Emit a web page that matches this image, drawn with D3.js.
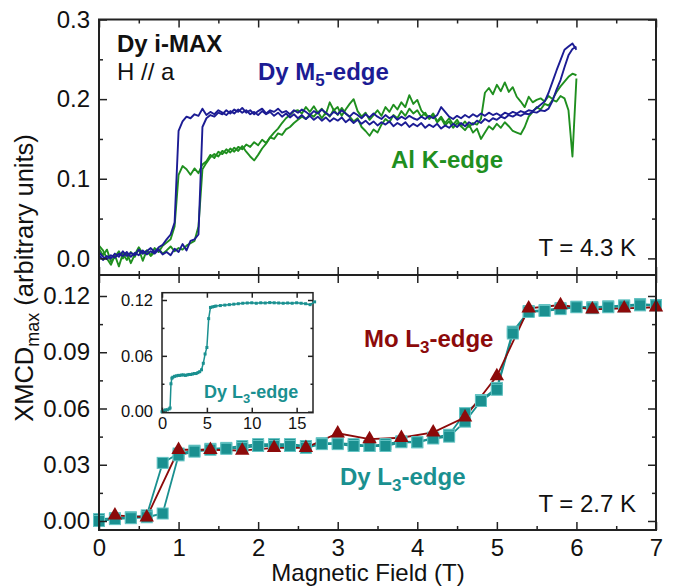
<!DOCTYPE html>
<html>
<head>
<meta charset="utf-8">
<script src="https://cdn.jsdelivr.net/npm/d3@7/dist/d3.min.js"></script>
<style>
  body { margin: 0; background: #fff; }
  svg { display: block; font-family: "Liberation Sans", Arial, sans-serif; }
</style>
</head>
<body>
<svg id="chart" width="679" height="587"></svg>
<script>
// ---- data ----
// top panel: field sweep 0..6 T on a 0.05 T grid
var sweepStep = 0.05;
var sweepField = d3.range(0, 6 + 1e-6, sweepStep);

var dyM5Early = [
  0.004,-0.002,0.003,0.000,0.006,0.002,0.009,0.003,0.007,0.004,0.011,0.006,0.009,0.013,0.008,0.014,0.017,0.024,0.030,0.045,
  0.160,0.172,0.178,0.176,0.181,0.179,0.188,0.180,0.184,0.181,0.186,0.183,0.180,0.185,0.182,0.187,0.183,0.186,0.181,0.184,
  0.180,0.185,0.181,0.184,0.179,0.183,0.178,0.182,0.177,0.181,0.176,0.180,0.175,0.179,0.174,0.178,0.173,0.177,0.172,0.176,
  0.173,0.177,0.171,0.175,0.170,0.174,0.169,0.173,0.168,0.172,0.167,0.171,0.168,0.172,0.166,0.170,0.167,0.171,0.165,0.169,
  0.166,0.170,0.164,0.168,0.165,0.169,0.163,0.167,0.164,0.169,0.165,0.170,0.166,0.171,0.168,0.173,0.170,0.175,0.172,0.176,
  0.174,0.178,0.176,0.180,0.178,0.181,0.179,0.182,0.181,0.184,0.183,0.186,0.185,0.188,0.198,0.212,0.224,0.240,0.255,0.263,
  0.266];
var dyM5Late = [
  0.008,0.002,-0.001,0.004,0.001,0.006,0.003,0.008,0.002,0.007,0.004,0.010,0.005,0.009,0.006,0.011,0.005,0.008,0.004,0.012,
  0.008,0.018,0.010,0.022,0.024,0.030,0.165,0.176,0.180,0.178,0.183,0.181,0.186,0.182,0.187,0.184,0.189,0.183,0.186,0.181,
  0.185,0.188,0.182,0.186,0.184,0.188,0.183,0.185,0.181,0.186,0.183,0.187,0.184,0.180,0.185,0.182,0.187,0.183,0.179,0.184,
  0.181,0.186,0.182,0.178,0.183,0.180,0.176,0.181,0.177,0.182,0.178,0.175,0.180,0.176,0.179,0.174,0.178,0.175,0.179,0.176,
  0.174,0.178,0.175,0.179,0.176,0.180,0.190,0.184,0.178,0.175,0.179,0.176,0.180,0.177,0.181,0.178,0.182,0.179,0.183,0.180,
  0.182,0.179,0.183,0.181,0.184,0.182,0.185,0.183,0.186,0.185,0.189,0.193,0.197,0.208,0.222,0.236,0.249,0.262,0.266,0.270,
  0.262];
var alKEarly = [
  0.016,0.010,0.000,-0.008,0.004,-0.010,0.006,-0.002,0.008,0.002,0.012,-0.003,0.010,0.004,0.013,0.008,0.016,0.020,0.024,0.040,
  0.105,0.116,0.112,0.105,0.113,0.107,0.118,0.122,0.130,0.126,0.134,0.131,0.137,0.133,0.139,0.135,0.141,0.134,0.128,0.123,
  0.130,0.138,0.144,0.152,0.158,0.163,0.170,0.176,0.180,0.185,0.186,0.182,0.190,0.184,0.191,0.183,0.188,0.181,0.196,0.186,
  0.190,0.179,0.187,0.194,0.200,0.185,0.178,0.183,0.174,0.180,0.186,0.179,0.190,0.184,0.193,0.187,0.196,0.190,0.205,0.194,
  0.199,0.186,0.180,0.176,0.182,0.172,0.178,0.170,0.176,0.168,0.174,0.166,0.172,0.165,0.170,0.168,0.175,0.208,0.214,0.206,
  0.218,0.210,0.221,0.209,0.215,0.203,0.197,0.190,0.203,0.196,0.199,0.201,0.197,0.204,0.200,0.209,0.216,0.222,0.228,0.232,
  0.230];
var alKLate = [
  0.012,0.004,0.011,-0.004,0.002,0.009,0.000,0.007,-0.006,0.005,0.014,0.006,0.010,0.003,0.008,0.012,0.006,0.010,0.015,0.009,
  0.013,0.011,0.016,0.019,0.022,0.040,0.112,0.120,0.127,0.131,0.128,0.135,0.132,0.138,0.134,0.140,0.137,0.143,0.140,0.146,
  0.142,0.149,0.145,0.152,0.150,0.157,0.155,0.162,0.165,0.170,0.174,0.178,0.175,0.181,0.178,0.184,0.176,0.183,0.178,0.187,
  0.180,0.189,0.182,0.178,0.172,0.176,0.165,0.160,0.154,0.162,0.158,0.168,0.175,0.171,0.180,0.176,0.185,0.179,0.188,0.182,
  0.186,0.178,0.183,0.175,0.180,0.171,0.176,0.167,0.172,0.164,0.170,0.166,0.161,0.168,0.158,0.163,0.150,0.158,0.166,0.162,
  0.169,0.164,0.171,0.166,0.160,0.158,0.156,0.165,0.178,0.184,0.190,0.187,0.194,0.192,0.199,0.197,0.204,0.201,0.186,0.128,
  0.226];

// bottom panel
var moField = [0.2, 0.6, 1.0, 1.4, 1.8, 2.2, 2.6, 3.0, 3.4, 3.8, 4.2, 4.6, 5.0, 5.4, 5.8, 6.2, 6.6, 7.0];
var moL3 = [0.003, 0.002, 0.038, 0.038, 0.0375, 0.039, 0.039, 0.0468, 0.0437, 0.0444, 0.0473, 0.0553, 0.0773, 0.1134, 0.1152, 0.1129, 0.1134, 0.114];

var dyField = [0, 0.2, 0.4, 0.6, 0.8, 1.0, 1.2, 1.4, 1.6, 1.8, 2.0, 2.2, 2.4, 2.6, 2.8, 3.0, 3.2, 3.4,
               3.6, 3.8, 4.0, 4.2, 4.4, 4.6, 4.8, 5.0, 5.2, 5.4, 5.6, 5.8, 6.0, 6.2, 6.4, 6.6, 6.8, 7.0];
var dyL3Up = [0.000, 0.001, 0.0015, 0.002, 0.004, 0.035, 0.037, 0.038, 0.0385, 0.039, 0.040, 0.040, 0.040, 0.039, 0.041, 0.041, 0.040, 0.040,
              0.040, 0.042, 0.042, 0.044, 0.045, 0.053, 0.064, 0.070, 0.100, 0.1115, 0.112, 0.113, 0.114, 0.1135, 0.114, 0.1145, 0.115, 0.115];
var dyL3Down = [0.001, 0.0015, 0.002, 0.003, 0.031, 0.036, 0.0375, 0.0385, 0.039, 0.040, 0.041, 0.041, 0.041, 0.040, 0.0415, 0.0415, 0.041, 0.040,
                0.041, 0.0425, 0.042, 0.0445, 0.046, 0.0575, 0.0645, 0.071, 0.101, 0.112, 0.1125, 0.1135, 0.1143, 0.114, 0.1145, 0.115, 0.1157, 0.1152];

// inset: Dy L3 up to 17 T
var insetField = [0, 0.2, 0.4, 0.6, 0.8, 0.9, 1.0, 1.1, 1.2, 1.4, 1.6, 1.8, 2.0, 2.2, 2.4, 2.6, 2.8, 3.0, 3.2, 3.4, 3.6, 3.8,
                  4.0, 4.2, 4.4, 4.6, 4.8, 5.0, 5.2, 5.4, 5.6, 5.8, 6.0, 6.5, 7.0, 7.5, 8.0, 8.5, 9.0, 9.5, 10.0, 10.5,
                  11.0, 11.5, 12.0, 12.5, 13.0, 13.5, 14.0, 14.5, 15.0, 15.5, 16.0, 16.5, 17.0];
var insetDyL3 = [0.000, 0.001, 0.002, 0.002, 0.003, 0.004, 0.030, 0.036, 0.037, 0.038, 0.0385, 0.039, 0.039, 0.0395, 0.0395, 0.039, 0.0395, 0.040, 0.040, 0.0405, 0.041, 0.041,
                 0.042, 0.043, 0.045, 0.052, 0.062, 0.069, 0.100, 0.112, 0.1125, 0.113, 0.1135, 0.114, 0.1145, 0.115, 0.1155, 0.116, 0.1165, 0.1168, 0.117, 0.1165,
                 0.117, 0.1168, 0.1172, 0.117, 0.1168, 0.1165, 0.1168, 0.1165, 0.117, 0.1165, 0.116, 0.115, 0.118];

var xMajor = [0, 1, 2, 3, 4, 5, 6, 7], xMinor = [0.5, 1.5, 2.5, 3.5, 4.5, 5.5, 6.5];
var topMajor = [0, 0.1, 0.2, 0.3], topMinor = [0.05, 0.15, 0.25];
var botMajor = [0, 0.03, 0.06, 0.09, 0.12], botMinor = [0.015, 0.045, 0.075, 0.105];
var insetXMajor = [0, 5, 10, 15], insetYMajor = [0, 0.06, 0.12], insetYMinor = [0.03, 0.09];

// ---- colours ----
var BLUE = '#1c1c94', GREEN = '#1f8f1f', RED = '#8c0a0a', TEAL = '#1a9090', TEAL_EDGE = '#63c3c3', INK = '#222';

var svg = d3.select('#chart');
var L = 99, R = 656;
var x = d3.scaleLinear().domain([0, 7]).range([L, R]);
var yTop = d3.scaleLinear().domain([0, 0.3]).range([258.4, 19.5]);
var yBot = d3.scaleLinear().domain([0, 0.12]).range([521, 296]);
var panelTop = {t: 19.5, b: 275}, panelBot = {t: 275, b: 530};

// inward ticks on all four sides of a box
function boxTicks(g, xs, ys, box, xMaj, xMin, yMaj, yMin, len, xFmt, yFmt, fs) {
    function put(axis, tr, vals, size, fmt) {
        var a = g.append('g').attr('transform', tr)
            .call(axis.tickValues(vals).tickSize(size).tickSizeOuter(0).tickPadding(fmt ? 9 : 0)
                  .tickFormat(fmt || ''));
        a.select('.domain').remove();
        a.selectAll('line').attr('stroke', INK).attr('stroke-width', 1.5);
        a.selectAll('text').attr('fill', '#111').style('font-size', fs + 'px').style('font-family', 'inherit');
        return a;
    }
    put(d3.axisBottom(xs), 'translate(0,' + box.b + ')', xMaj, -len, xFmt);
    put(d3.axisBottom(xs), 'translate(0,' + box.b + ')', xMin, -len / 2);
    put(d3.axisTop(xs), 'translate(0,' + box.t + ')', xMaj, -len);
    put(d3.axisTop(xs), 'translate(0,' + box.t + ')', xMin, -len / 2);
    put(d3.axisLeft(ys), 'translate(' + box.l + ',0)', yMaj, -len, yFmt);
    put(d3.axisLeft(ys), 'translate(' + box.l + ',0)', yMin, -len / 2);
    put(d3.axisRight(ys), 'translate(' + box.r + ',0)', yMaj, -len);
    put(d3.axisRight(ys), 'translate(' + box.r + ',0)', yMin, -len / 2);
}

var fmtTop = d3.format('.1f'), fmtBot = d3.format('.2f');

// top panel
var gTop = svg.append('g');
var topLine = d3.line().x(function(d){ return x(d[0]); }).y(function(d){ return yTop(d[1]); });
[[alKEarly, GREEN], [alKLate, GREEN], [dyM5Early, BLUE], [dyM5Late, BLUE]].forEach(function(s) {
    gTop.append('path')
        .datum(sweepField.map(function(f, i){ return [f, s[0][i]]; }))
        .attr('d', topLine)
        .attr('fill', 'none')
        .attr('stroke', s[1])
        .attr('stroke-width', 1.9)
        .attr('stroke-linejoin', 'round');
});
boxTicks(gTop, x, yTop, {l: L, r: R, t: panelTop.t, b: panelTop.b}, xMajor, xMinor, topMajor, topMinor, 8, null, fmtTop, 24);

// bottom panel
var gBot = svg.append('g');
var botLine = d3.line().x(function(d){ return x(d[0]); }).y(function(d){ return yBot(d[1]); });
[dyL3Down, dyL3Up].forEach(function(vals) {
    var pts = dyField.map(function(f, i){ return [f, vals[i]]; });
    gBot.append('path').datum(pts).attr('d', botLine)
        .attr('fill', 'none').attr('stroke', TEAL).attr('stroke-width', 1.8);
});
var moPts = moField.map(function(f, i){ return [f, moL3[i]]; });
gBot.append('path').datum(moPts).attr('d', botLine)
    .attr('fill', 'none').attr('stroke', RED).attr('stroke-width', 1.8);

[dyL3Down, dyL3Up].forEach(function(vals) {
    gBot.append('g').selectAll('rect')
        .data(dyField.map(function(f, i){ return [f, vals[i]]; }))
        .enter().append('rect')
        .attr('x', function(d){ return x(d[0]) - 5.5; })
        .attr('y', function(d){ return yBot(d[1]) - 5.5; })
        .attr('width', 11).attr('height', 11)
        .attr('fill', TEAL).attr('stroke', TEAL_EDGE).attr('stroke-width', 1);
});
gBot.append('g').selectAll('path')
    .data(moPts)
    .enter().append('path')
    .attr('transform', function(d){ return 'translate(' + x(d[0]) + ',' + yBot(d[1]) + ')'; })
    .attr('d', d3.symbol().type(d3.symbolTriangle).size(90))
    .attr('fill', RED);

boxTicks(gBot, x, yBot, {l: L, r: R, t: panelBot.t, b: panelBot.b}, xMajor, xMinor, botMajor, botMinor, 8, d3.format('d'), fmtBot, 24);

// frames
svg.append('rect').attr('x', L).attr('y', panelTop.t).attr('width', R - L).attr('height', panelBot.b - panelTop.t)
    .attr('fill', 'none').attr('stroke', INK).attr('stroke-width', 2);
svg.append('line').attr('x1', L).attr('x2', R).attr('y1', 275).attr('y2', 275)
    .attr('stroke', INK).attr('stroke-width', 2);

// inset
var ib = {l: 162, r: 313, t: 292.7, b: 412.7};
var xi = d3.scaleLinear().domain([0, 17]).range([162, 314.6]);
var yi = d3.scaleLinear().domain([0, 0.12]).range([411.7, 300]);
var gIn = svg.append('g');
gIn.append('rect').attr('x', ib.l).attr('y', ib.t).attr('width', ib.r - ib.l).attr('height', ib.b - ib.t)
    .attr('fill', '#fff').attr('stroke', INK).attr('stroke-width', 1.5);
var insetPts = insetField.map(function(f, i){ return [f, insetDyL3[i]]; });
gIn.append('path').datum(insetPts)
    .attr('d', d3.line().x(function(d){ return xi(d[0]); }).y(function(d){ return yi(d[1]); }))
    .attr('fill', 'none').attr('stroke', TEAL).attr('stroke-width', 1.5);
gIn.append('g').selectAll('rect').data(insetPts).enter().append('rect')
    .attr('x', function(d){ return xi(d[0]) - 1.5; })
    .attr('y', function(d){ return yi(d[1]) - 1.5; })
    .attr('width', 3).attr('height', 3).attr('fill', TEAL);
boxTicks(gIn, xi, yi, ib, insetXMajor, [], insetYMajor, insetYMinor, 5, d3.format('d'), fmtBot, 16.5);
gIn.selectAll('text').each(function() {
    // pull inset labels a little closer to the box
    var t = d3.select(this);
    if (t.attr('y') !== null && +t.attr('y') > 0) t.attr('y', 5);
});

// axis titles
svg.append('text')
    .attr('x', 368).attr('y', 581)
    .attr('text-anchor', 'middle')
    .style('font-size', '24px').attr('fill', '#111')
    .text('Magnetic Field (T)');
var yt = svg.append('text')
    .attr('transform', 'translate(33,278) rotate(-90)')
    .attr('text-anchor', 'middle')
    .style('font-size', '25.5px').attr('fill', '#111');
yt.append('tspan').text('XMCD');
yt.append('tspan').attr('dy', 6).style('font-size', '18px').text('max');
yt.append('tspan').attr('dy', -6).text(' (arbitrary units)');

// annotations
function label(x0, y0, parts, opts) {
    var t = svg.append('text')
        .attr('x', x0).attr('y', y0)
        .attr('text-anchor', opts.anchor || 'start')
        .attr('fill', opts.color || '#111')
        .style('font-size', (opts.size || 24) + 'px')
        .style('font-weight', opts.bold ? 'bold' : 'normal');
    parts.forEach(function(p) {
        if (typeof p === 'string') t.append('tspan').text(p);
        else t.append('tspan').attr('dy', p.dy).style('font-size', p.size + 'px').text(p.text);
    });
    return t;
}
label(117, 52, ['Dy i-MAX'], {bold: true});
label(117, 80, ['H // a'], {});
label(258, 80, ['Dy M', {text: '5', dy: 6, size: 17}, {text: '-edge', dy: -6, size: 24}], {bold: true, color: BLUE});
label(391, 168, ['Al K-edge'], {bold: true, color: GREEN});
label(636, 256, ['T = 4.3 K'], {anchor: 'end'});
label(364, 347, ['Mo L', {text: '3', dy: 6, size: 17}, {text: '-edge', dy: -6, size: 24}], {bold: true, color: RED});
label(340, 485, ['Dy L', {text: '3', dy: 6, size: 17}, {text: '-edge', dy: -6, size: 24}], {bold: true, color: TEAL});
label(636, 512, ['T = 2.7 K'], {anchor: 'end'});
label(204, 398, ['Dy L', {text: '3', dy: 5, size: 13}, {text: '-edge', dy: -5, size: 18}], {bold: true, color: TEAL, size: 18});
</script>
</body>
</html>
